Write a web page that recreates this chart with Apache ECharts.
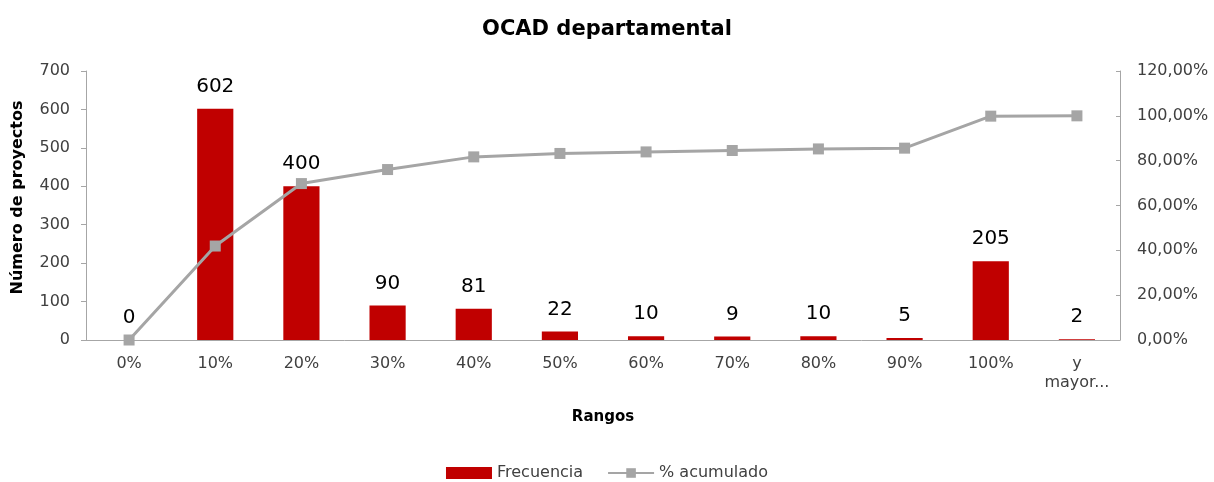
<!DOCTYPE html>
<html><head><meta charset="utf-8">
<script src="https://cdn.jsdelivr.net/npm/echarts@6/dist/echarts.min.js"></script>
<style>html,body{margin:0;padding:0;background:#fff}#c{width:1214px;height:482px}</style>
</head><body><div id="c"></div>
<script>
const categories = ['0%','10%','20%','30%','40%','50%','60%','70%','80%','90%','100%','y\nmayor...'];
const frecuencia = [0,602,400,90,81,22,10,9,10,5,205,2];
const acumulado = [0,0.4192,0.6978,0.7604,0.8169,0.8322,0.8391,0.8454,0.8524,0.8558,0.9986,1.0];
const leftTicks = {min:0,max:700,interval:100};
const rightTicks = {min:0,max:1.2,interval:0.2};
const FONT = 'DejaVu Sans';
const chart = echarts.init(document.getElementById('c'));
chart.setOption({
  animation:false,
  textStyle:{fontFamily:FONT},
  title:{text:'OCAD departamental',left:'center',top:14,textStyle:{fontFamily:FONT,fontSize:21,fontWeight:'bold',color:'#000'}},
  legend:{top:460,left:'center',itemGap:24,itemWidth:46,itemHeight:12,textStyle:{fontFamily:FONT,fontSize:16,color:'#404040'},
    data:[{name:'Frecuencia',icon:'rect'},{name:'% acumulado'}]},
  grid:{left:86,right:94,top:71,bottom:142},
  xAxis:{type:'category',data:categories,name:'Rangos',nameLocation:'middle',nameGap:70,
    nameTextStyle:{fontFamily:FONT,fontSize:15,fontWeight:'bold',color:'#000'},
    axisLine:{lineStyle:{color:'#a6a6a6'}},axisTick:{alignWithLabel:false,length:6,lineStyle:{color:'#a6a6a6'}},
    axisLabel:{fontFamily:FONT,fontSize:16,color:'#404040',margin:14,interval:0,lineHeight:19}},
  yAxis:[{type:'value',min:leftTicks.min,max:leftTicks.max,interval:leftTicks.interval,
    name:'Número de proyectos',nameLocation:'middle',nameGap:60,nameRotate:90,
    nameTextStyle:{fontFamily:FONT,fontSize:16,fontWeight:'bold',color:'#000',padding:[0,0,0,16]},
    axisLine:{show:true,lineStyle:{color:'#a6a6a6'}},axisTick:{show:true,length:5,lineStyle:{color:'#a6a6a6'}},
    splitLine:{show:false},axisLabel:{fontFamily:FONT,fontSize:16,color:'#404040',margin:16}},
   {type:'value',min:rightTicks.min,max:rightTicks.max,interval:rightTicks.interval,position:'right',
    axisLine:{show:true,lineStyle:{color:'#a6a6a6'}},axisTick:{show:true,inside:true,length:4,lineStyle:{color:'#a6a6a6'}},
    splitLine:{show:false},
    axisLabel:{fontFamily:FONT,fontSize:16,color:'#404040',margin:17,formatter:v=>(v*100).toFixed(2).replace('.',',')+'%'}}],
  series:[
    {name:'Frecuencia',type:'bar',data:frecuencia,barWidth:'42%',itemStyle:{color:'#c00000'},
     label:{show:true,position:'top',distance:12,fontFamily:FONT,fontSize:20,color:'#000'}},
    {name:'% acumulado',type:'line',yAxisIndex:1,data:acumulado,symbol:'rect',symbolSize:11,
     lineStyle:{color:'#a5a5a5',width:3},itemStyle:{color:'#a5a5a5'}}
  ]
});
</script></body></html>
